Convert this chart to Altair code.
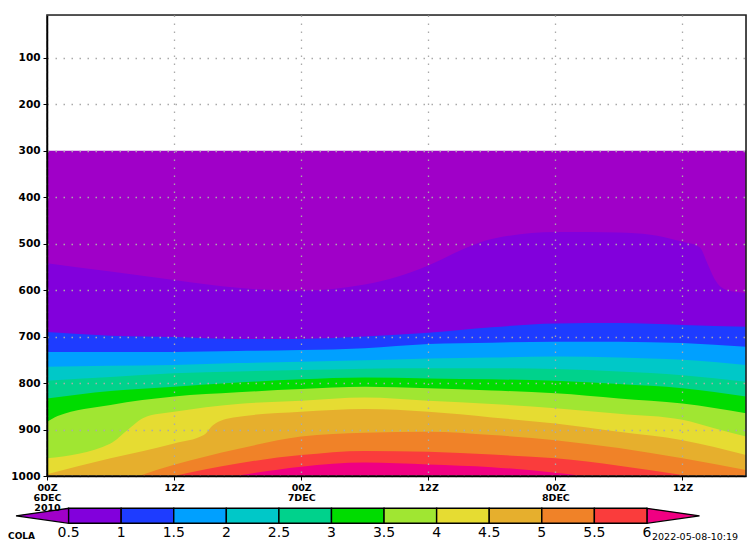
import json
import altair as alt
import pandas as pd

# ---------------- data ----------------
T_MAX = 66            # hours after 00Z 6 DEC 2010
P_TOP = 8             # hPa at top of frame
P_BOT = 1000          # hPa at bottom of frame
P_DATA_TOP = 300      # data exist below this level

tick_hours = [0, 12, 24, 36, 48, 60]
tick_labels = [["00Z", "6DEC", "2010"], ["12Z"], ["00Z", "7DEC"], ["12Z"], ["00Z", "8DEC"], ["12Z"]]
p_ticks = [100, 200, 300, 400, 500, 600, 700, 800, 900, 1000]

levels = [0.5, 1, 1.5, 2, 2.5, 3, 3.5, 4, 4.5, 5, 5.5, 6]
colors = ["#a000c8", "#8200dc", "#1e3cff", "#00a0ff", "#00c8c8", "#00d28c",
          "#00dc00", "#a0e632", "#e6dc32", "#e6af2d", "#f08228", "#fa3c3c", "#f00082"]

# pressure (hPa) of each contour level versus time (hours)
b05_t = [0, 6, 12, 18, 24, 30, 33, 36, 40, 42, 48, 54, 57, 60, 61.6, 62.4, 63, 64.2, 66]
b05_p = [542, 560, 578, 595, 601, 588, 572, 547, 505, 490, 475, 476, 481, 496, 507, 545, 575, 600, 606]

grid_t = [0, 6, 12, 18, 24, 30, 36, 42, 48, 54, 60, 66]
b10_p = [690, 698, 701, 705, 705, 700, 692, 680, 672, 671, 675, 679]
b15_p = [733, 733, 733, 731, 729, 725, 716, 713, 711, 711, 714, 722]
b20_p = [765, 763, 761, 757, 754, 751, 747, 745, 743, 745, 750, 761]
b25_p = [795, 787, 779, 775, 772, 769, 768, 768, 770, 775, 783, 797]
b30_p = [833, 817, 808, 799, 792, 788, 790, 792, 795, 802, 811, 829]

b35_t = [0, 1, 6, 12, 18, 24, 30, 36, 42, 48, 54, 60, 66]
b35_p = [884, 871, 847, 829, 820, 813, 808, 811, 816, 822, 833, 844, 865]

b40_t = [0, 6, 7.6, 9.2, 12, 18, 24, 30, 36, 42, 48, 54, 60, 63, 66]
b40_p = [962, 930, 901, 874, 862, 845, 838, 831, 838, 845, 854, 866, 879, 897, 915]

b45_t = [0, 6, 12, 14.8, 15.7, 17.6, 24, 30, 36, 42, 48, 54, 60, 66]
b45_p = [996, 962, 930, 912, 890, 874, 862, 856, 862, 874, 887, 905, 923, 955]

b50_p = [1060, 1020, 976, 942, 915, 907, 905, 912, 923, 940, 962, 987]
b55_p = [1070, 1035, 1000, 973, 955, 946, 948, 954, 962, 978, 998, 1020]
b60_p = [1080, 1045, 1020, 999, 980, 971, 975, 981, 993, 1010, 1030, 1050]

boundaries = [
    ([0, T_MAX], [P_DATA_TOP, P_DATA_TOP]),
    (b05_t, b05_p), (grid_t, b10_p), (grid_t, b15_p), (grid_t, b20_p),
    (grid_t, b25_p), (grid_t, b30_p), (b35_t, b35_p), (b40_t, b40_p),
    (b45_t, b45_p), (grid_t, b50_p), (grid_t, b55_p), (grid_t, b60_p),
]

# ---------------- styling ----------------
FONT = "DejaVu Sans"
GRID = dict(grid=True, gridColor="#aaaaaa", gridDash=[1.5, 6.5], gridWidth=1.3)


def label_expr(vals, labs):
    expr = "''"
    for v, l in reversed(list(zip(vals, labs))):
        expr = f"datum.value == {v} ? {json.dumps(l)} : ({expr})"
    return expr


xaxis = alt.Axis(values=tick_hours, labelExpr=label_expr(tick_hours, tick_labels),
                 title=None, tickSize=4, tickColor="black", domainColor="black",
                 domainWidth=1.5, labelFont=FONT, labelFontWeight="bold",
                 labelFontSize=9.5, labelLineHeight=10, labelPadding=2,
                 labelColor="black", labelFlush=False, zindex=1, **GRID)
yaxis = alt.Axis(values=p_ticks, format="d", title=None, tickSize=4, tickColor="black",
                 domainColor="black", domainWidth=1.5, labelFont=FONT,
                 labelFontWeight="bold", labelFontSize=10.5, labelPadding=3,
                 labelColor="black", zindex=1, **GRID)

xscale = alt.Scale(domain=[0, T_MAX], nice=False, zero=False)
yscale = alt.Scale(domain=[P_BOT, P_TOP], nice=False, zero=False)

main_layers = []
for (ts, ps), col in zip(boundaries, colors):
    df = pd.DataFrame({"t": ts, "p": ps})
    main_layers.append(
        alt.Chart(df).mark_area(color=col, clip=True, interpolate="monotone").encode(
            x=alt.X("t:Q", scale=xscale, axis=xaxis),
            y=alt.Y("p:Q", scale=yscale, axis=yaxis),
            y2=alt.datum(P_BOT),
        )
    )

frame = alt.Chart(pd.DataFrame({"a": [0]})).mark_rect(
    fillOpacity=0, stroke="#222222", strokeWidth=1.6
).encode(
    x=alt.X(datum=0, scale=xscale, axis=xaxis),
    x2=alt.datum(T_MAX),
    y=alt.Y(datum=P_TOP, scale=yscale, axis=yaxis),
    y2=alt.datum(P_BOT),
)
main = alt.layer(*main_layers, frame)

# ---------------- colour bar ----------------
CB_TIP = 0.5
cbx = alt.Scale(domain=[0.2946, 6.942], nice=False, zero=False)
cby = alt.Scale(domain=[0, 1], range=[508.3, 493.3], nice=False, zero=False)

boxes_df = pd.DataFrame({"lo": levels[:-1], "hi": levels[1:], "col": colors[1:-1]})
boxes = alt.Chart(boxes_df).mark_rect(stroke="black", strokeWidth=1.4).encode(
    x=alt.X("lo:Q", scale=cbx, axis=None),
    x2="hi:Q",
    y=alt.Y(datum=0, scale=cby, axis=None),
    y2=alt.datum(1),
    color=alt.Color("col:N", scale=None),
)

tri_l_df = pd.DataFrame({"v": [levels[0] - CB_TIP, levels[0]], "top": [0.5, 1], "bot": [0.5, 0]})
tri_r_df = pd.DataFrame({"v": [levels[-1], levels[-1] + CB_TIP], "top": [1, 0.5], "bot": [0, 0.5]})
tris = [
    alt.Chart(d).mark_area(color=c, stroke="black", strokeWidth=1.2).encode(
        x=alt.X("v:Q", scale=cbx, axis=None),
        y=alt.Y("top:Q", scale=cby, axis=None),
        y2="bot:Q",
    )
    for d, c in [(tri_l_df, colors[0]), (tri_r_df, colors[-1])]
]

lab_df = pd.DataFrame({"v": levels, "txt": [f"{v:g}" for v in levels]})
labels = alt.Chart(lab_df).mark_text(
    font=FONT, fontSize=14, color="black", baseline="middle", align="center"
).encode(
    x=alt.X("v:Q", scale=cbx, axis=None),
    y=alt.Y(datum=-0.62, scale=cby, axis=None),
    text="txt:N",
)

notes_df = pd.DataFrame({"txt": ["COLA"]})
cola = alt.Chart(notes_df).mark_text(
    font=FONT, fontSize=9, fontWeight="bold", color="black", align="right", baseline="middle"
).encode(x=alt.value(-12), y=alt.value(521), text="txt:N")

stamp_df = pd.DataFrame({"txt": ["2022-05-08-10:19"]})
stamp = alt.Chart(stamp_df).mark_text(
    font=FONT, fontSize=9.5, color="black", align="left", baseline="middle"
).encode(x=alt.value(605), y=alt.value(522), text="txt:N")

cbar = alt.layer(*tris, boxes, labels, cola, stamp)

chart = (
    alt.layer(main, cbar)
    .resolve_scale(x="independent", y="independent")
    .properties(width=699, height=461, autosize="none",
                padding={"left": 39, "top": 7, "right": 1, "bottom": 68})
    .configure_view(stroke=None)
    .configure(background="white")
)

chart.save("out.html", embed_options={"renderer": "svg", "actions": False})
